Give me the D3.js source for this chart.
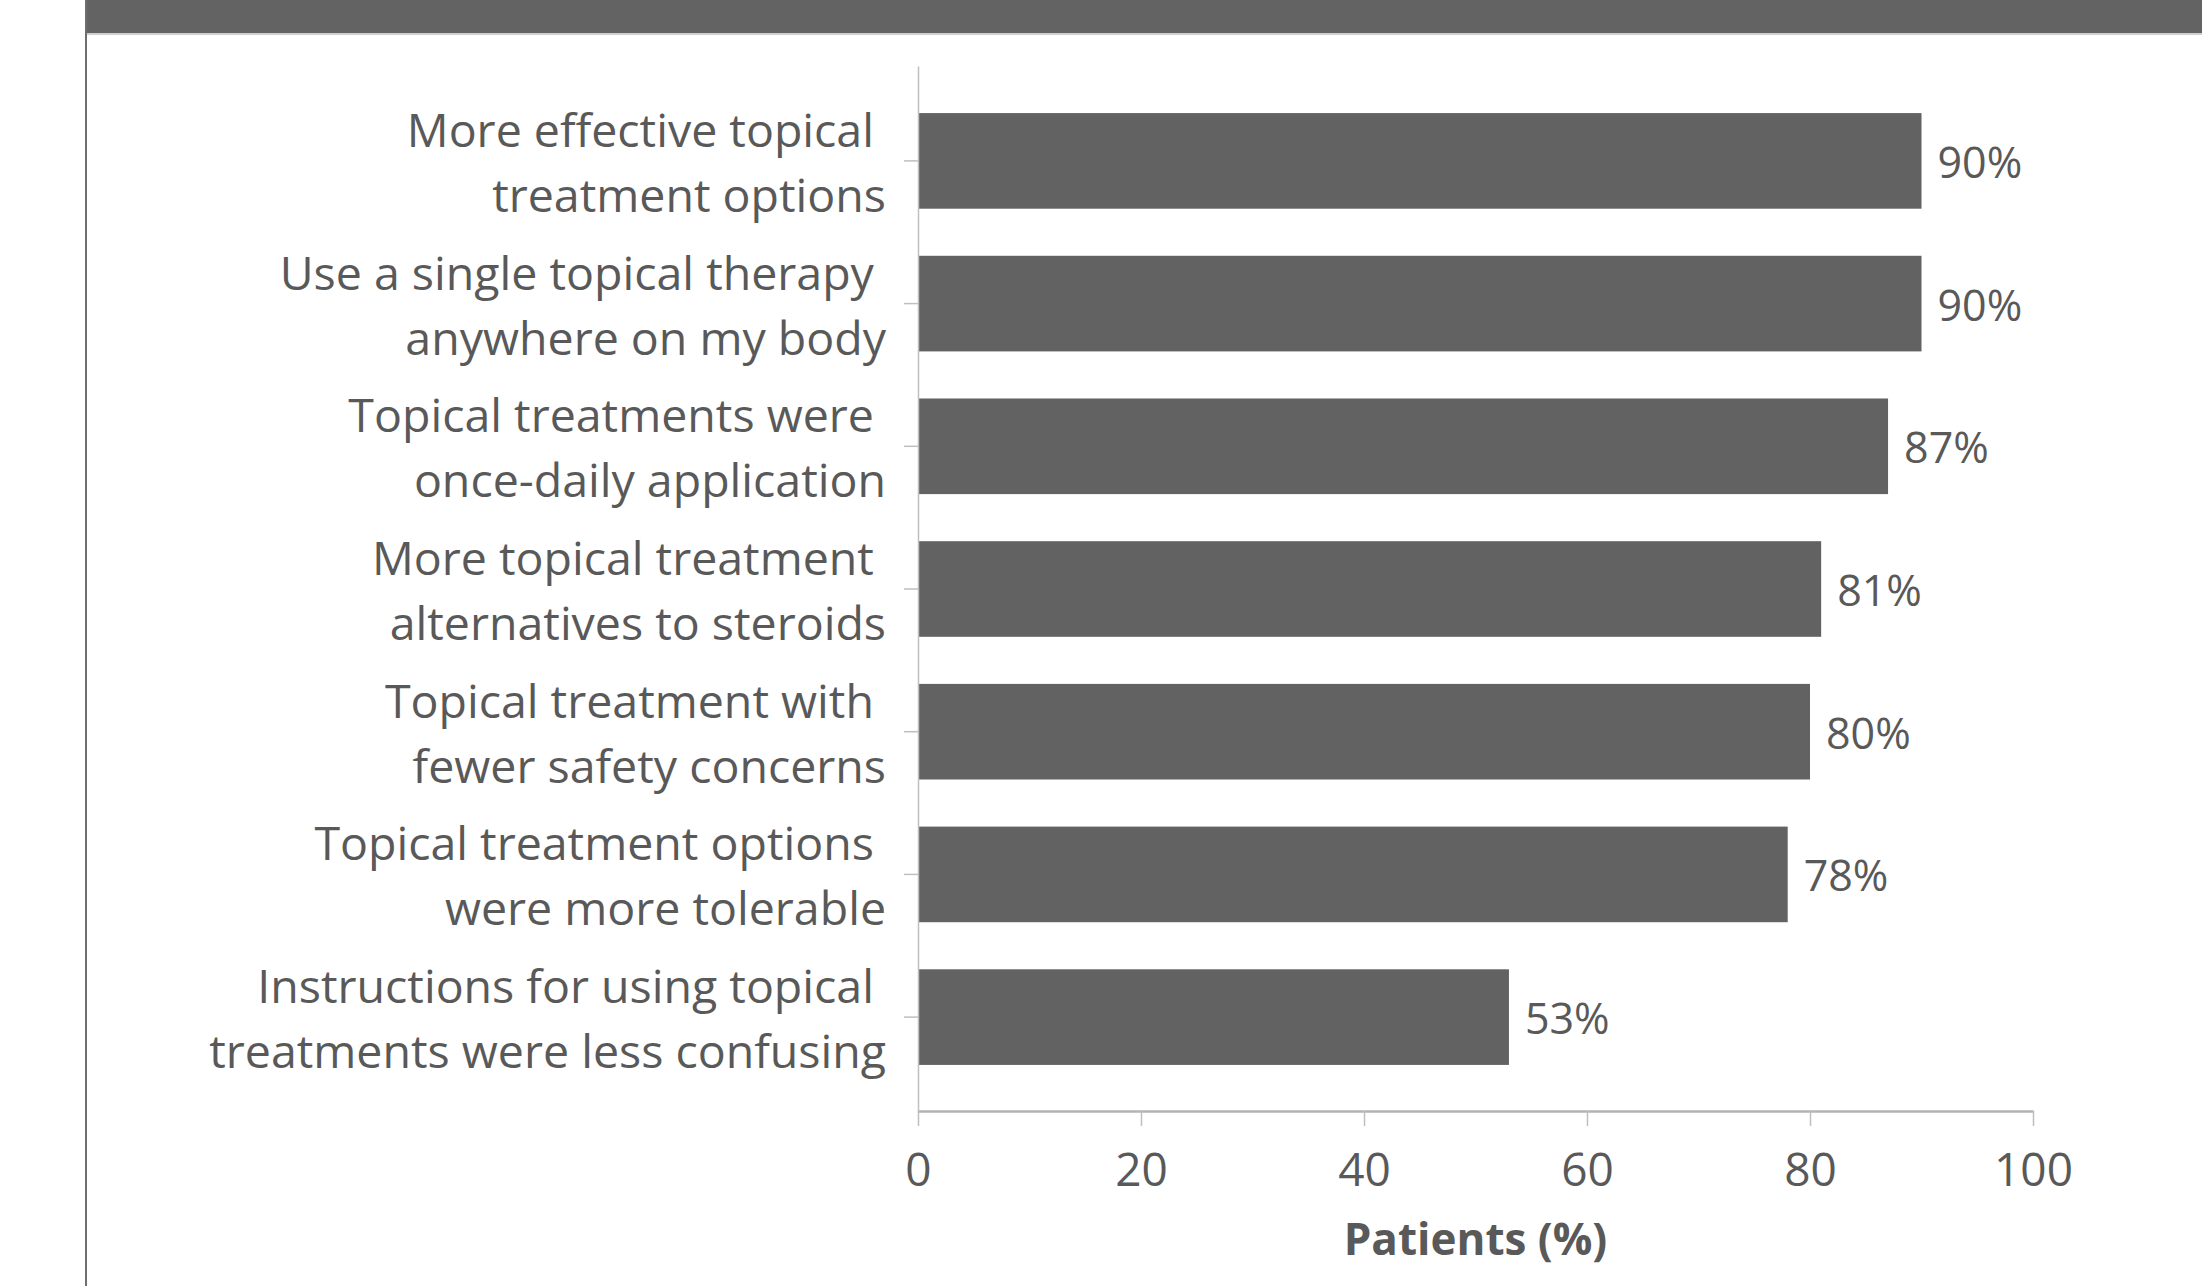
<!DOCTYPE html>
<html>
<head>
<meta charset="utf-8">
<script src="https://cdn.jsdelivr.net/npm/d3@7"></script>
<style>
  html, body { margin: 0; padding: 0; background: #ffffff; }
  svg { display: block; }
</style>
</head>
<body>
<svg id="chart" width="2202" height="1286"></svg>
<script>
// ---- data ----
const categories = [
  "More effective topical treatment options",
  "Use a single topical therapy anywhere on my body",
  "Topical treatments were once-daily application",
  "More topical treatment alternatives to steroids",
  "Topical treatment with fewer safety concerns",
  "Topical treatment options were more tolerable",
  "Instructions for using topical treatments were less confusing"
];
const categoryLines = [
  ["More effective topical ", "treatment options"],
  ["Use a single topical therapy ", "anywhere on my body"],
  ["Topical treatments were ", "once-daily application"],
  ["More topical treatment ", "alternatives to steroids"],
  ["Topical treatment with ", "fewer safety concerns"],
  ["Topical treatment options ", "were more tolerable"],
  ["Instructions for using topical ", "treatments were less confusing"]
];
const values = [90, 90, 87, 81, 80, 78, 53];
const valueLabels = ["90%", "90%", "87%", "81%", "80%", "78%", "53%"];
const xTicks = [0, 20, 40, 60, 80, 100];
const xTitle = "Patients (%)";

// ---- layout ----
const W = 2202, H = 1286;
const plotLeft = 918, plotRight = 2033, plotTop = 65, plotBottom = 1111;
const barColor = "#626262";
const textColor = "#595959";
const font = "'Open Sans', 'Noto Sans', sans-serif";

const svg = d3.select("#chart");

// frame: top band and left rule
svg.append("rect").attr("x", 86).attr("y", 0).attr("width", W - 86).attr("height", 33).attr("fill", "#636363");
svg.append("line").attr("x1", 86).attr("x2", W).attr("y1", 34).attr("y2", 34).attr("stroke", "#cfcfcf").attr("stroke-width", 2);
svg.append("line").attr("x1", 86).attr("x2", 86).attr("y1", 0).attr("y2", H).attr("stroke", "#6e6e6e").attr("stroke-width", 2);

const x = d3.scaleLinear().domain([0, 100]).range([plotLeft, plotRight]);
const y = d3.scaleBand().domain(categories).range([plotTop + 1, plotBottom + 1]).padding(0.33);

// bars
svg.append("g").selectAll("rect").data(values).join("rect")
  .attr("x", x(0))
  .attr("y", (d, i) => y(categories[i]))
  .attr("width", d => x(d) - x(0))
  .attr("height", y.bandwidth())
  .attr("fill", barColor);

// value labels
svg.append("g").selectAll("text").data(values).join("text")
  .attr("x", d => x(d) + 16)
  .attr("y", (d, i) => y(categories[i]) + y.bandwidth() / 2 + 17)
  .attr("font-family", font)
  .attr("font-size", 43)
  .attr("fill", textColor)
  .text((d, i) => valueLabels[i]);

// y axis (ticks at category centres, no default labels)
const yAxis = svg.append("g")
  .attr("transform", `translate(${plotLeft},0)`)
  .call(d3.axisLeft(y).tickSize(14).tickSizeOuter(0).tickFormat(""));
yAxis.select(".domain").attr("stroke", "#bfbfbf").attr("stroke-width", 1.5);
yAxis.selectAll(".tick line").attr("stroke", "#bfbfbf").attr("stroke-width", 1.5);

// category labels (two lines, right aligned)
const lab = svg.append("g").selectAll("text").data(categories).join("text")
  .attr("text-anchor", "end")
  .attr("font-family", font)
  .attr("font-size", 46.5)
  .attr("fill", textColor)
  .style("white-space", "pre");
lab.each(function(d, i) {
  const cy = y(d) + y.bandwidth() / 2;
  const t = d3.select(this);
  categoryLines[i].forEach((line, j) => {
    t.append("tspan")
      .attr("x", 886)
      .attr("y", cy - 14 + j * 65)
      .text(line);
  });
});

// x axis
const xAxis = svg.append("g")
  .attr("transform", `translate(0,${plotBottom})`)
  .call(d3.axisBottom(x).tickValues(xTicks).tickSize(15).tickSizeOuter(0));
xAxis.select(".domain").attr("stroke", "#b3b3b3").attr("stroke-width", 2.5);
xAxis.selectAll(".tick line").attr("stroke", "#bfbfbf").attr("stroke-width", 1.5);
xAxis.selectAll(".tick text")
  .attr("y", 75).attr("dy", null)
  .attr("font-family", font)
  .attr("font-size", 46)
  .attr("fill", textColor);

// x axis title
svg.append("text")
  .attr("x", (plotLeft + plotRight) / 2)
  .attr("y", 1255)
  .attr("text-anchor", "middle")
  .attr("font-family", font)
  .attr("font-weight", "bold")
  .attr("font-size", 44)
  .attr("fill", textColor)
  .text(xTitle);
</script>
</body>
</html>
